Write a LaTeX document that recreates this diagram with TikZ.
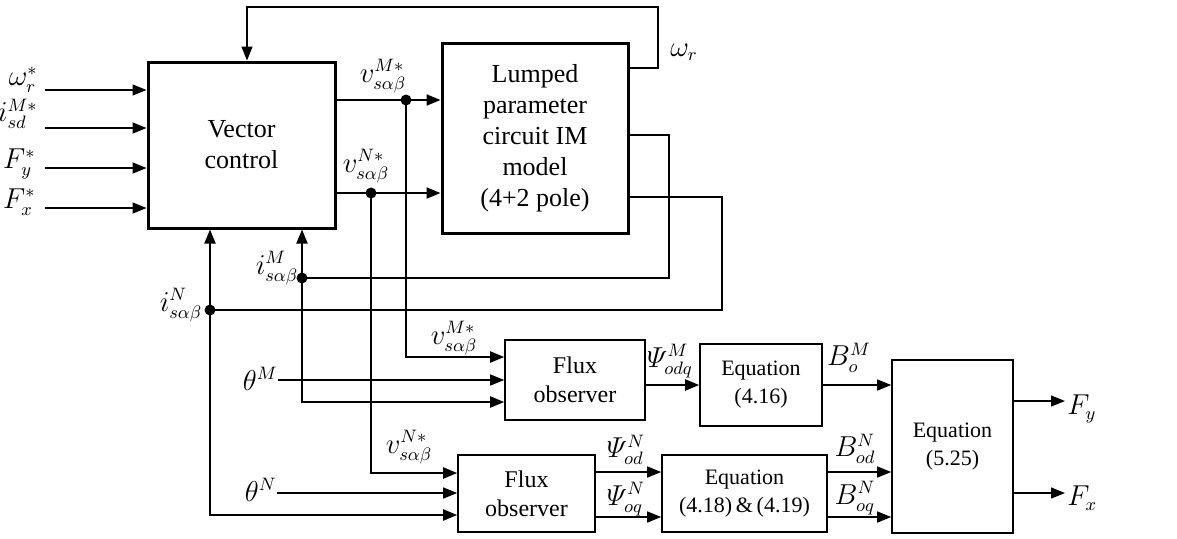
\documentclass[tikz,border=0pt]{standalone}
\usepackage{amsmath}
\usepackage{fontspec}
\setmainfont{Liberation Serif}
\usetikzlibrary{arrows.meta}

\begin{document}
\begin{tikzpicture}[
    x=0.5pt, y=-0.5pt,
    >={Triangle[length=7pt,width=5.5pt]},
    % Styles
    big_block/.style={draw, line width=1.5pt, align=center, inner sep=0pt, font=\fontsize{13}{15.5}\selectfont},
    obs_block/.style={draw, line width=0.8pt, align=center, inner sep=0pt, font=\fontsize{12}{14.5}\selectfont},
    eq_block/.style={draw, line width=0.8pt, align=center, inner sep=0pt, font=\fontsize{11}{14}\selectfont},
    sig_label/.style={inner sep=0pt, font=\fontsize{13.5}{15}\selectfont},
    thick_line/.style={line width=1pt},
    thin_line/.style={line width=0.65pt},
    junction/.style={circle, fill=black, inner sep=0pt, minimum size=5.5pt}
]
    \useasboundingbox (0,0) rectangle (1177,538);

    % ==========================================
    % 1. BLOCKS
    % ==========================================
    \node[big_block, minimum width=93.5pt, minimum height=83pt] (vc) at (241.5,145) {Vector\\control};
    \node[big_block, minimum width=93pt, minimum height=95pt] (im) at (535,138)
        {Lumped\\parameter\\circuit IM\\model\\(4+2 pole)};
    \node[obs_block, minimum width=70pt, minimum height=40pt] (fom) at (575,380) {Flux\\observer};
    \node[obs_block, minimum width=68.5pt, minimum height=38.5pt] (fon) at (526.5,493.5) {Flux\\observer};
    \node[eq_block, minimum width=61pt, minimum height=41pt] (eqa) at (761,385) {Equation\\(4.16)};
    \node[eq_block, minimum width=82.5pt, minimum height=38.5pt] (eqb) at (744.5,493.5) {Equation\\(4.18)\,\&\,(4.19)};
    \node[eq_block, minimum width=60.5pt, minimum height=86.5pt] (eqc) at (952.5,446.5) {Equation\\(5.25)};

    % ==========================================
    % 2. COORDINATES
    % ==========================================
    % references into vector control
    \coordinate[label={[sig_label, yshift=5pt, label distance=3.5pt]left:$\omega_r^*$}] (wr) at (45,90);
    \coordinate[label={[sig_label, yshift=7pt, label distance=3.5pt]left:$i_{sd}^{M*}$}] (isd) at (45,128);
    \coordinate[label={[sig_label, yshift=2pt, label distance=4.5pt]left:$F_y^*$}] (fy) at (45,168);
    \coordinate[label={[sig_label, yshift=3pt, label distance=4.5pt]left:$F_x^*$}] (fx) at (45,208);

    % speed feedback
    \coordinate (fbA) at (658,68);
    \coordinate (fbB) at (658,7);
    \coordinate (fbC) at (247,7);

    % voltage references and their branches
    \coordinate (vM) at (406,100);
    \coordinate (vN) at (371,193);
    \coordinate (vMdown) at (406,357);
    \coordinate (vNdown) at (371,473);

    % measured currents and their branches
    \coordinate (oM) at (669,135);
    \coordinate (oN) at (722,197);
    \coordinate (iM) at (302,278);
    \coordinate (iN) at (210,310);
    \coordinate (iMdown) at (302,402);
    \coordinate (iNdown) at (210,515);

    % rotor angles
    \coordinate[label={[sig_label, yshift=0.5pt, label distance=0pt]left:$\theta^M$}] (thM) at (278,380);
    \coordinate[label={[sig_label, yshift=1.5pt, label distance=0pt]left:$\theta^N$}] (thN) at (277,493);

    % flux and field signals
    \coordinate (odN) at (628,472);
    \coordinate (oqN) at (628,517);
    \coordinate (BodN) at (860,472);
    \coordinate (BoqN) at (860,517);

    % forces
    \coordinate[label={[sig_label, yshift=-4pt, label distance=1pt]right:$F_y$}] (Fyout) at (1065,401);
    \coordinate[label={[sig_label, yshift=-2.5pt, label distance=1pt]right:$F_x$}] (Fxout) at (1065,493);

    % ==========================================
    % 3. CONNECTORS
    % ==========================================
    \foreach \p in {wr, isd, fy, fx} {
        \draw[thin_line, ->] (\p) -- (\p -| vc.west);
    }

    \draw[thin_line, ->] (fbA -| im.east) -- (fbA) -- (fbB) -- (fbC) -- (fbC |- vc.north);

    \draw[thick_line, ->] (vM -| vc.east) -- (vM -| im.west);
    \draw[thick_line, ->] (vN -| vc.east) -- (vN -| im.west);
    \draw[thick_line, ->] (vM) -- (vMdown) -- (vMdown -| fom.west);
    \draw[thick_line, ->] (vN) -- (vNdown) -- (vNdown -| fon.west);

    \draw[thick_line] (oM -| im.east) -- (oM) |- (iM);
    \draw[thick_line] (oN -| im.east) -- (oN) |- (iN);
    \draw[thick_line, ->] (iM) -- (iM |- vc.south);
    \draw[thick_line, ->] (iN) -- (iN |- vc.south);
    \draw[thick_line, ->] (iM) -- (iMdown) -- (iMdown -| fom.west);
    \draw[thick_line, ->] (iN) -- (iNdown) -- (iNdown -| fon.west);

    \draw[thin_line, ->] (thM) -- (thM -| fom.west);
    \draw[thin_line, ->] (thN) -- (thN -| fon.west);

    \draw[thick_line, ->] (fom.east |- eqa.west) -- (eqa.west);
    \draw[thin_line, ->] (eqa.east) -- (eqa.east -| eqc.west);
    \draw[thin_line, ->] (odN -| fon.east) -- (odN -| eqb.west);
    \draw[thin_line, ->] (oqN -| fon.east) -- (oqN -| eqb.west);
    \draw[thin_line, ->] (BodN -| eqb.east) -- (BodN -| eqc.west);
    \draw[thin_line, ->] (BoqN -| eqb.east) -- (BoqN -| eqc.west);

    \draw[thin_line, ->] (Fyout -| eqc.east) -- (Fyout);
    \draw[thin_line, ->] (Fxout -| eqc.east) -- (Fxout);

    % junction dots
    \node[junction] (dvM) at (vM) {};
    \node[junction] (dvN) at (vN) {};
    \node[junction] (diM) at (iM) {};
    \node[junction] (diN) at (iN) {};

    % ==========================================
    % 4. SIGNAL LABELS
    % ==========================================
    \node[sig_label] (wrlab) at (684,52) {$\omega_r$};
    \node[sig_label] (vMtop) at (383,76) {$v_{s\alpha\beta}^{M*}$};
    \node[sig_label] (vNtop) at (366,166) {$v_{s\alpha\beta}^{N*}$};
    \node[sig_label] (vMlow) at (454,338) {$v_{s\alpha\beta}^{M*}$};
    \node[sig_label] (vNlow) at (409,447) {$v_{s\alpha\beta}^{N*}$};
    \node[sig_label] (iMlab) at (277,268) {$i_{s\alpha\beta}^{M}$};
    \node[sig_label] (iNlab) at (181,305) {$i_{s\alpha\beta}^{N}$};
    \node[sig_label] (psiM) at (670,361) {$\varPsi_{odq}^{M}$};
    \node[sig_label] (BoM) at (849,358) {$B_{o}^{M}$};
    \node[sig_label] (psiod) at (626,450) {$\varPsi_{od}^{N}$};
    \node[sig_label] (psioq) at (626,499) {$\varPsi_{oq}^{N}$};
    \node[sig_label] (Bod) at (855,449) {$B_{od}^{N}$};
    \node[sig_label] (Boq) at (855,498) {$B_{oq}^{N}$};

\end{tikzpicture}
\end{document}
